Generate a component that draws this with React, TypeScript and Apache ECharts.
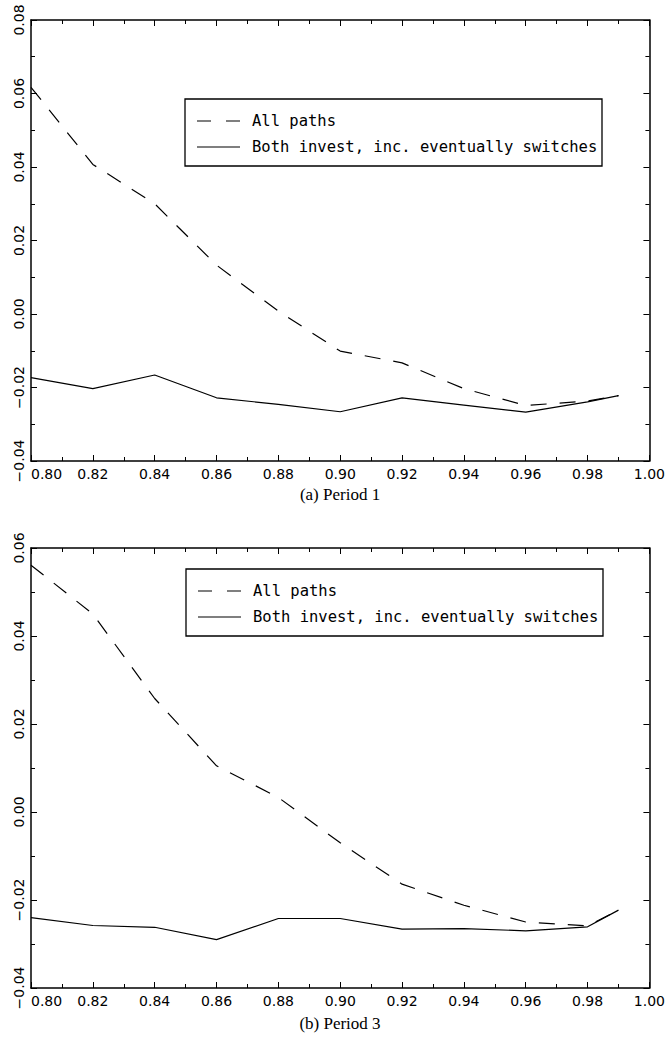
import React, { useEffect, useRef } from "react";
import * as echarts from "echarts";

// Discount factor on the horizontal axis
const discount = [0.8, 0.82, 0.84, 0.86, 0.88, 0.9, 0.92, 0.94, 0.96, 0.98, 0.99];

// Period 1
const p1AllPaths = [0.0617, 0.0407, 0.0300, 0.0133, 0.0008, -0.0101, -0.0133, -0.0203, -0.0249, -0.0237, -0.0222];
const p1BothInvest = [-0.0173, -0.0203, -0.0166, -0.0228, -0.0246, -0.0266, -0.0228, -0.0248, -0.0267, -0.0239, -0.0222];

// Period 3
const p3AllPaths = [0.0561, 0.0450, 0.0258, 0.0105, 0.0033, -0.0070, -0.0164, -0.0212, -0.0250, -0.0259, -0.0223];
const p3BothInvest = [-0.0240, -0.0258, -0.0262, -0.0290, -0.0242, -0.0242, -0.0266, -0.0265, -0.0270, -0.0261, -0.0223];

const seriesNames = ["All paths", "Both invest, inc. eventually switches"];
const captions = ["(a) Period 1", "(b) Period 3"];
const yRanges = [
  [-0.04, 0.08],
  [-0.04, 0.06],
];

const SANS = "DejaVu Sans";
const DASH = [16, 13];

const grids = [
  { left: 31, top: 20, width: 619, height: 441 },
  { left: 31, top: 548, width: 619, height: 440 },
];

function fmt(v: number): string {
  const s = Math.abs(v).toFixed(2);
  return v < -1e-9 ? "\u2212" + s : s;
}

function xAxes(gi: number) {
  const common = {
    type: "value",
    gridIndex: gi,
    min: 0.8,
    max: 1.0,
    interval: 0.02,
    splitLine: { show: false },
    axisLine: { show: true, onZero: false, lineStyle: { color: "#000", width: 1.5 } },
    axisTick: { show: true, inside: true, length: 6, lineStyle: { color: "#000", width: 1 } },
    minorTick: { show: true, splitNumber: 2, length: 4, lineStyle: { color: "#000", width: 1 } },
  };
  return [
    {
      ...common,
      position: "bottom",
      axisLabel: {
        show: true,
        formatter: (v: number) => fmt(v),
        fontFamily: SANS,
        fontSize: 14,
        color: "#000",
        margin: 6,
        alignMinLabel: "left",
      },
    },
    { ...common, position: "top", axisLabel: { show: false } },
  ];
}

function yAxes(gi: number) {
  const [mn, mx] = yRanges[gi];
  const common = {
    type: "value",
    gridIndex: gi,
    min: mn,
    max: mx,
    interval: 0.02,
    splitLine: { show: false },
    axisLine: { show: true, onZero: false, lineStyle: { color: "#000", width: 1.5 } },
    axisTick: { show: true, inside: true, length: 6, lineStyle: { color: "#000", width: 1 } },
    minorTick: { show: true, splitNumber: 2, length: 4, lineStyle: { color: "#000", width: 1 } },
  };
  return [
    {
      ...common,
      position: "left",
      axisLabel: {
        show: true,
        rotate: 90,
        formatter: (v: number) => fmt(v),
        fontFamily: SANS,
        fontSize: 14,
        color: "#000",
        margin: 5,
      },
    },
    { ...common, position: "right", axisLabel: { show: false } },
  ];
}

function pairs(ys: number[]) {
  return discount.map((x, i) => [x, ys[i]]);
}

function lineSeries(name: string, gi: number, ys: number[], dashed: boolean) {
  return {
    name,
    type: "line",
    xAxisIndex: gi * 2,
    yAxisIndex: gi * 2,
    data: pairs(ys),
    symbol: "none",
    lineStyle: { color: "#000", width: 1.2, type: dashed ? DASH : "solid" },
    silent: true,
  };
}

function legendBox(left: number, top: number) {
  const w = 417;
  const h = 67;
  return {
    type: "group",
    x: left,
    y: top,
    children: [
      { type: "rect", shape: { x: 0, y: 0, width: w, height: h }, style: { fill: "#fff", stroke: "#000", lineWidth: 1.3 } },
      { type: "line", shape: { x1: 12, y1: 22, x2: 55, y2: 22 }, style: { stroke: "#000", lineWidth: 1.2, lineDash: [14, 15] } },
      { type: "line", shape: { x1: 12, y1: 48, x2: 55, y2: 48 }, style: { stroke: "#000", lineWidth: 1.2 } },
      { type: "text", x: 67, y: 22, style: { text: seriesNames[0], fontFamily: "DejaVu Sans Mono", fontSize: 15.5, fill: "#000", verticalAlign: "middle", align: "left" } },
      { type: "text", x: 67, y: 48, style: { text: seriesNames[1], fontFamily: "DejaVu Sans Mono", fontSize: 15.5, fill: "#000", verticalAlign: "middle", align: "left" } },
    ],
  };
}

function caption(text: string, y: number) {
  return {
    type: "text",
    x: 340,
    y,
    style: { text, fontFamily: "Liberation Serif", fontSize: 17, fill: "#000", align: "center", verticalAlign: "middle" },
  };
}

export default function App() {
  const ref = useRef<HTMLDivElement>(null);

  useEffect(() => {
    if (!ref.current) return;
    const chart = echarts.init(ref.current, undefined, { renderer: "svg" });
    chart.setOption({
      animation: false,
      backgroundColor: "#fff",
      grid: grids.map((g) => ({ ...g, containLabel: false })),
      xAxis: [...xAxes(0), ...xAxes(1)],
      yAxis: [...yAxes(0), ...yAxes(1)],
      series: [
        lineSeries(seriesNames[0], 0, p1AllPaths, true),
        lineSeries(seriesNames[1], 0, p1BothInvest, false),
        lineSeries(seriesNames[0], 1, p3AllPaths, true),
        lineSeries(seriesNames[1], 1, p3BothInvest, false),
      ],
      graphic: [
        legendBox(185, 99),
        legendBox(186, 569),
        caption(captions[0], 494),
        caption(captions[1], 1023),
      ],
    });
    return () => chart.dispose();
  }, []);

  return (
    <div
      ref={ref}
      style={{ position: "absolute", left: 0, top: 0, width: 668, height: 1043 }}
    />
  );
}
